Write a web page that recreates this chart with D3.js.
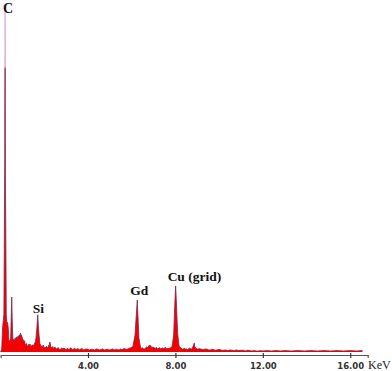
<!DOCTYPE html>
<html><head><meta charset="utf-8">
<script src="https://cdn.jsdelivr.net/npm/d3@7"></script>
<style>html,body{margin:0;padding:0;background:#fff;}svg{display:block;}</style>
</head><body>
<svg id="chart" width="392" height="371"></svg>
<script>
const energies = [0.00,0.05,0.09,0.12,0.15,0.17,0.19,0.205,0.22,0.24,0.26,0.29,0.32,0.35,0.38,0.42,0.46,0.49,0.51,0.53,0.56,0.60,0.63,0.66,0.69,0.72,0.76,0.80,0.83,0.86,0.89,0.91,0.93,0.95,0.98,1.01,1.03,1.07,1.10,1.12,1.16,1.19,1.21,1.25,1.28,1.30,1.35,1.38,1.40,1.44,1.47,1.49,1.53,1.56,1.59,1.62,1.66,1.70,1.73,1.76,1.80,1.85,1.90,1.95,1.99,2.05,2.09,2.12,2.16,2.19,2.23,2.26,2.30,2.35,2.39,2.42,2.46,2.50,2.54,2.58,2.62,2.66,2.70,2.75,2.80,2.85,2.90,2.95,3.00,3.05,3.10,3.15,3.20,3.25,3.30,3.35,3.40,3.45,3.50,3.55,3.60,3.65,3.70,3.75,3.80,3.85,3.92,4.00,4.07,4.15,4.22,4.30,4.37,4.45,4.52,4.60,4.67,4.75,4.82,4.90,4.97,5.05,5.12,5.20,5.27,5.35,5.42,5.50,5.55,5.60,5.65,5.70,5.76,
5.83,5.89,5.95,6.05,6.15,6.21,6.255,6.29,6.33,6.40,6.45,6.50,6.55,6.61,6.66,6.70,6.74,6.78,6.84,6.90,6.94,6.97,7.01,7.05,7.09,7.12,7.16,7.20,7.24,7.28,7.34,7.39,7.44,7.48,7.52,7.55,
7.62,7.66,7.70,7.78,7.85,7.92,7.97,8.01,8.05,8.10,8.17,8.24,8.30,8.35,8.40,8.45,8.50,8.54,8.58,8.63,8.68,8.73,8.78,8.83,8.86,8.89,8.95,9.03,9.09,9.15,9.22,9.30,9.37,9.45,9.52,9.60,9.67,9.75,9.82,9.90,9.97,10.05,10.12,10.20,10.30,10.40,10.50,10.60,10.70,10.80,10.90,11.00,11.10,11.20,11.30,11.40,11.50,11.60,11.70,11.80,11.90,12.00,12.20,12.40,12.60,12.80,13.00,13.30,13.60,13.90,14.20,14.50,14.80,15.10,15.40,15.70,16.00,16.30,16.55,16.56];
const counts = [0,8,70,90,110,330,560,1000,520,330,108,84,86,70,35,30,40,110,160,100,38,36,30,41,35,44,38,47,42,50,46,55,48,50,44,38,36,29,33,24,20,25,18,17,22,20,23,16,18,17,21,19,20,26,30,41,70,108,75,49,24,18,15,20,13,12,16,15,11,18,22,29,14,12,16,10,13,14,9,9,13,11,7,8,12,9,11,9,7,11,8,8,12,10,7,9,11,7,9,10,6,8,10,9,6,7,9,8,6,8,7,6,9,8,6,7,9,6,7,8,6,7,9,6,8,7,6,9,7,8,10,9,8,
9,11,12,15,49,108,151,99,41,15,10,12,9,9,14,15,12,18,20,15,11,15,12,12,9,14,10,9,12,12,8,12,10,10,13,13,
9,11,10,12,17,50,136,192,136,55,17,12,9,8,11,9,9,7,8,11,10,8,12,20,26,15,10,8,10,9,7,7,9,8,6,6,8,7,5,6,7,7,5,5,6,4,6,5,4,6,4,5,5,3,5,4,3,4,3,3,4,3,4,3,4,3,4,3,4,3,4,3,4,3,4,3,4,3,4,3,0];
const tickValues = [4, 8, 12, 16];
const peakLabels = ["C", "Si", "Gd", "Cu (grid)"];
const peakEnergies = [0.205, 1.70, 6.255, 8.01];
const axisUnit = "KeV";

const svg = d3.select("#chart");
const x = d3.scaleLinear().domain([0, 16.8]).range([0.6, 367.7]);
const y = d3.scaleLinear().domain([0, 1000]).range([352, 8]);
const data = energies.map((e, i) => ({e, c: counts[i]}));

const defs = svg.append("defs");
const grad = defs.append("linearGradient").attr("id", "strokeGrad")
  .attr("gradientUnits", "userSpaceOnUse").attr("x1", 0).attr("x2", 0).attr("y1", 0).attr("y2", 371);
grad.append("stop").attr("offset", 0.18).attr("stop-color", "#dca6d8");
grad.append("stop").attr("offset", 0.185).attr("stop-color", "#7e2448");
grad.append("stop").attr("offset", 1).attr("stop-color", "#7e2448");

svg.append("path").datum(data)
  .attr("d", d3.area().x(d => x(d.e)).y0(y(0)).y1(d => y(d.c)))
  .attr("fill", "#f40000");
svg.append("path").datum(data)
  .attr("d", d3.line().x(d => x(d.e)).y(d => y(d.c)))
  .attr("fill", "none").attr("stroke", "url(#strokeGrad)").attr("stroke-width", 0.8);

// axis
const ax = svg.append("g").attr("transform", "translate(0,355)")
  .call(d3.axisBottom(x).tickValues(tickValues).tickFormat(d3.format(".2f")).tickSize(3).tickPadding(3));
ax.select(".domain").attr("stroke", "#555").attr("stroke-width", 1.2);
ax.selectAll(".tick line").attr("y1", -2).attr("y2", 3).attr("stroke", "#333").attr("stroke-width", 1.2);
ax.selectAll(".tick text").attr("font-family", "DejaVu Sans").attr("font-weight", "bold")
  .attr("font-size", 8.5).attr("fill", "#333").attr("dy", null).attr("y", 13.8);

svg.append("text").attr("x", 368).attr("y", 368.5).text(axisUnit)
  .attr("font-family", "Liberation Serif").attr("font-size", 12).attr("fill", "#222");

// peak labels
const labelOffsets = [[-2, 13], [-5, 313], [-7, 295], [-8, 281]];
svg.selectAll("text.peak").data(peakLabels).join("text").attr("class", "peak")
  .attr("x", (d, i) => x(peakEnergies[i]) + labelOffsets[i][0])
  .attr("y", (d, i) => labelOffsets[i][1])
  .attr("font-family", "Liberation Serif").attr("font-weight", "bold")
  .attr("font-size", (d, i) => i === 0 ? 14 : 13.5).attr("fill", "#111")
  .text(d => d);
</script>
</body></html>
